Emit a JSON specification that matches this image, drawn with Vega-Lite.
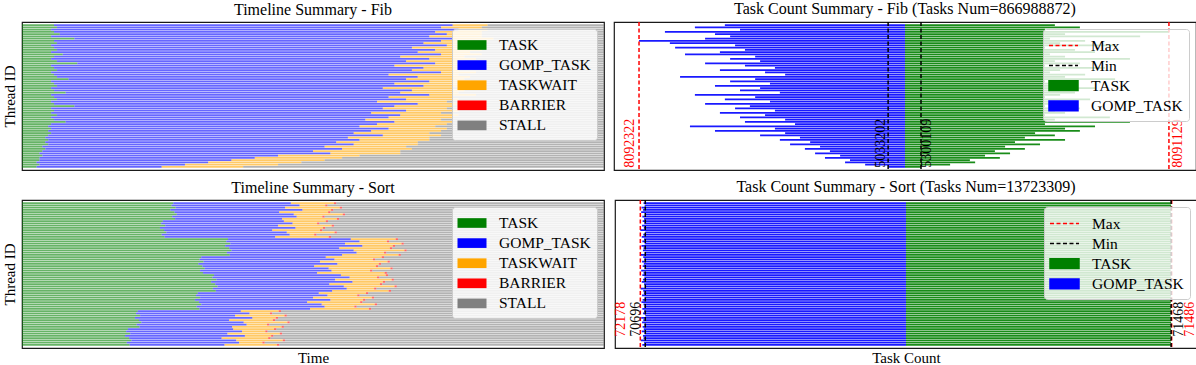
{
  "$schema": "https://vega.github.io/schema/vega-lite/v6.json",
  "background": "white",
  "padding": {"left": 1, "top": 0, "right": 0, "bottom": 0},
  "config": {
    "font": "Liberation Serif",
    "view": {"stroke": "#1a1a1a", "strokeWidth": 1.2},
    "title": {"font": "Liberation Serif", "fontSize": 16, "fontWeight": "normal", "color": "#000000", "offset": 4},
    "axis": {"titleFont": "Liberation Serif", "titleFontSize": 15, "titleFontWeight": "normal", "titleColor": "#000000", "grid": false, "labels": false, "ticks": false, "domain": false, "titlePadding": 5},
    "axisX": {"titlePadding": 2},
    "legend": {"labelFont": "Liberation Serif", "labelFontSize": 15.5, "labelColor": "#000000", "labelLimit": 300, "symbolOffset": 4}
  },
  "datasets": {
    "stateOrder": [
      {"state": "TASK", "o": 0}, {"state": "GOMP_TASK", "o": 1}, {"state": "TASKWAIT", "o": 2}, {"state": "BARRIER", "o": 3}, {"state": "STALL", "o": 4}
    ],
    "fibTimeline": [
      {"t":0,"TASK":5.5,"GOMP_TASK":68.5,"TASKWAIT":6,"STALL":20},
      {"t":1,"TASK":6,"GOMP_TASK":66,"TASKWAIT":7,"STALL":21},
      {"t":2,"TASK":5,"GOMP_TASK":70,"TASKWAIT":5,"STALL":20},
      {"t":3,"TASK":5.5,"GOMP_TASK":65.5,"TASKWAIT":8,"STALL":21},
      {"t":4,"TASK":6.5,"GOMP_TASK":66.5,"TASKWAIT":6,"STALL":21},
      {"t":5,"TASK":5,"GOMP_TASK":65,"TASKWAIT":9,"STALL":21},
      {"t":6,"TASK":9,"GOMP_TASK":65,"TASKWAIT":7,"STALL":19},
      {"t":7,"TASK":5.5,"GOMP_TASK":66.5,"TASKWAIT":8,"STALL":20},
      {"t":8,"TASK":6,"GOMP_TASK":63,"TASKWAIT":9,"STALL":22},
      {"t":9,"TASK":5,"GOMP_TASK":68,"TASKWAIT":6,"STALL":21},
      {"t":10,"TASK":5.5,"GOMP_TASK":61.5,"TASKWAIT":10,"STALL":23},
      {"t":11,"TASK":6,"GOMP_TASK":65,"TASKWAIT":8,"STALL":21},
      {"t":12,"TASK":5,"GOMP_TASK":63,"TASKWAIT":9,"STALL":23},
      {"t":13,"TASK":7,"GOMP_TASK":65,"TASKWAIT":7,"STALL":21},
      {"t":14,"TASK":5.5,"GOMP_TASK":59.5,"TASKWAIT":11,"STALL":24},
      {"t":15,"TASK":5,"GOMP_TASK":65,"TASKWAIT":8,"STALL":22},
      {"t":16,"TASK":6,"GOMP_TASK":60,"TASKWAIT":10,"STALL":24},
      {"t":17,"TASK":9.5,"GOMP_TASK":61.5,"TASKWAIT":7,"STALL":22},
      {"t":18,"TASK":5,"GOMP_TASK":59,"TASKWAIT":11,"STALL":25},
      {"t":19,"TASK":5.5,"GOMP_TASK":63.5,"TASKWAIT":9,"STALL":22},
      {"t":20,"TASK":6,"GOMP_TASK":61,"TASKWAIT":8,"STALL":25},
      {"t":21,"TASK":5,"GOMP_TASK":67,"TASKWAIT":6,"STALL":22},
      {"t":22,"TASK":5.5,"GOMP_TASK":57.5,"TASKWAIT":12,"STALL":25},
      {"t":23,"TASK":6,"GOMP_TASK":62,"TASKWAIT":9,"STALL":23},
      {"t":24,"TASK":8,"GOMP_TASK":58,"TASKWAIT":10,"STALL":24},
      {"t":25,"TASK":5,"GOMP_TASK":65,"TASKWAIT":7,"STALL":23},
      {"t":26,"TASK":5.5,"GOMP_TASK":58.5,"TASKWAIT":11,"STALL":25},
      {"t":27,"TASK":6,"GOMP_TASK":63,"TASKWAIT":8,"STALL":23},
      {"t":28,"TASK":5,"GOMP_TASK":57,"TASKWAIT":12,"STALL":26},
      {"t":29,"TASK":5.5,"GOMP_TASK":61.5,"TASKWAIT":9,"STALL":24},
      {"t":30,"TASK":7.5,"GOMP_TASK":57.5,"TASKWAIT":10,"STALL":25},
      {"t":31,"TASK":5,"GOMP_TASK":65,"TASKWAIT":8,"STALL":22},
      {"t":32,"TASK":5.5,"GOMP_TASK":57.5,"TASKWAIT":11,"STALL":26},
      {"t":33,"TASK":6,"GOMP_TASK":60,"TASKWAIT":9,"STALL":25},
      {"t":34,"TASK":5,"GOMP_TASK":56,"TASKWAIT":12,"STALL":27},
      {"t":35,"TASK":5.5,"GOMP_TASK":62.5,"TASKWAIT":8,"STALL":24},
      {"t":36,"TASK":9,"GOMP_TASK":55,"TASKWAIT":10,"STALL":26},
      {"t":37,"TASK":5,"GOMP_TASK":57,"TASKWAIT":11,"STALL":27},
      {"t":38,"TASK":5.5,"GOMP_TASK":60.5,"TASKWAIT":9,"STALL":25},
      {"t":39,"TASK":5,"GOMP_TASK":55,"TASKWAIT":12,"STALL":28},
      {"t":40,"TASK":6,"GOMP_TASK":59,"TASKWAIT":10,"STALL":25},
      {"t":41,"TASK":5,"GOMP_TASK":58,"TASKWAIT":11,"STALL":26},
      {"t":42,"TASK":5.5,"GOMP_TASK":53.5,"TASKWAIT":13,"STALL":28},
      {"t":43,"TASK":7.5,"GOMP_TASK":56.5,"TASKWAIT":10,"STALL":26},
      {"t":44,"TASK":5,"GOMP_TASK":56,"TASKWAIT":12,"STALL":27},
      {"t":45,"TASK":4.5,"GOMP_TASK":53.5,"TASKWAIT":13,"STALL":29},
      {"t":46,"TASK":5,"GOMP_TASK":58,"TASKWAIT":10,"STALL":27},
      {"t":47,"TASK":4.5,"GOMP_TASK":55.5,"TASKWAIT":12,"STALL":28},
      {"t":48,"TASK":5,"GOMP_TASK":52,"TASKWAIT":13,"STALL":30},
      {"t":49,"TASK":4.5,"GOMP_TASK":57.5,"TASKWAIT":10,"STALL":28},
      {"t":50,"TASK":4,"GOMP_TASK":52,"TASKWAIT":14,"STALL":30},
      {"t":51,"TASK":4.5,"GOMP_TASK":53.5,"TASKWAIT":12,"STALL":30},
      {"t":52,"TASK":4,"GOMP_TASK":50,"TASKWAIT":14,"STALL":32},
      {"t":53,"TASK":4.5,"GOMP_TASK":52.5,"TASKWAIT":11,"STALL":32},
      {"t":54,"TASK":3.5,"GOMP_TASK":48.5,"TASKWAIT":14,"STALL":34},
      {"t":55,"TASK":4,"GOMP_TASK":51,"TASKWAIT":12,"STALL":33},
      {"t":56,"TASK":3.5,"GOMP_TASK":46.5,"TASKWAIT":15,"STALL":35},
      {"t":57,"TASK":3,"GOMP_TASK":50,"TASKWAIT":12,"STALL":35},
      {"t":58,"TASK":3.5,"GOMP_TASK":40.5,"TASKWAIT":14,"STALL":42},
      {"t":59,"TASK":3,"GOMP_TASK":37,"TASKWAIT":15,"STALL":45},
      {"t":60,"TASK":3,"GOMP_TASK":33,"TASKWAIT":16,"STALL":48},
      {"t":61,"TASK":2.5,"GOMP_TASK":29.5,"TASKWAIT":16,"STALL":52},
      {"t":62,"TASK":3,"GOMP_TASK":25,"TASKWAIT":16,"STALL":56},
      {"t":63,"TASK":2.5,"GOMP_TASK":21.5,"TASKWAIT":14,"STALL":62}
    ],
    "sortTimeline": [
      {"t":0,"TASK":26.0,"GOMP_TASK":20.2,"TASKWAIT":7.4,"BARRIER":0.4,"STALL":46.0},
      {"t":1,"TASK":25.7,"GOMP_TASK":22.0,"TASKWAIT":4.4,"BARRIER":0.4,"STALL":47.5},
      {"t":2,"TASK":26.4,"GOMP_TASK":18.8,"TASKWAIT":9.4,"BARRIER":0.4,"STALL":45.0},
      {"t":3,"TASK":25.5,"GOMP_TASK":22.7,"TASKWAIT":4.9,"BARRIER":0.4,"STALL":46.5},
      {"t":4,"TASK":26.2,"GOMP_TASK":18.0,"TASKWAIT":8.4,"BARRIER":0.4,"STALL":47.0},
      {"t":5,"TASK":26.6,"GOMP_TASK":20.1,"TASKWAIT":8.4,"BARRIER":0.4,"STALL":44.5},
      {"t":6,"TASK":25.8,"GOMP_TASK":21.4,"TASKWAIT":4.4,"BARRIER":0.4,"STALL":48.0},
      {"t":7,"TASK":26.3,"GOMP_TASK":18.4,"TASKWAIT":9.4,"BARRIER":0.4,"STALL":45.5},
      {"t":8,"TASK":24.2,"GOMP_TASK":20.8,"TASKWAIT":7.2,"BARRIER":0.4,"STALL":47.4},
      {"t":9,"TASK":23.9,"GOMP_TASK":22.6,"TASKWAIT":4.2,"BARRIER":0.4,"STALL":48.9},
      {"t":10,"TASK":24.6,"GOMP_TASK":19.4,"TASKWAIT":9.2,"BARRIER":0.4,"STALL":46.4},
      {"t":11,"TASK":23.7,"GOMP_TASK":23.3,"TASKWAIT":4.7,"BARRIER":0.4,"STALL":47.9},
      {"t":12,"TASK":24.4,"GOMP_TASK":18.6,"TASKWAIT":8.2,"BARRIER":0.4,"STALL":48.4},
      {"t":13,"TASK":24.8,"GOMP_TASK":20.7,"TASKWAIT":8.2,"BARRIER":0.4,"STALL":45.9},
      {"t":14,"TASK":24.0,"GOMP_TASK":22.0,"TASKWAIT":4.2,"BARRIER":0.4,"STALL":49.4},
      {"t":15,"TASK":24.5,"GOMP_TASK":19.0,"TASKWAIT":9.2,"BARRIER":0.4,"STALL":46.9},
      {"t":16,"TASK":35.4,"GOMP_TASK":21.1,"TASKWAIT":7.7,"BARRIER":0.4,"STALL":35.4},
      {"t":17,"TASK":35.1,"GOMP_TASK":22.9,"TASKWAIT":4.7,"BARRIER":0.4,"STALL":36.9},
      {"t":18,"TASK":35.8,"GOMP_TASK":19.7,"TASKWAIT":9.7,"BARRIER":0.4,"STALL":34.4},
      {"t":19,"TASK":34.9,"GOMP_TASK":23.6,"TASKWAIT":5.2,"BARRIER":0.4,"STALL":35.9},
      {"t":20,"TASK":35.6,"GOMP_TASK":18.9,"TASKWAIT":8.7,"BARRIER":0.4,"STALL":36.4},
      {"t":21,"TASK":36.0,"GOMP_TASK":21.0,"TASKWAIT":8.7,"BARRIER":0.4,"STALL":33.9},
      {"t":22,"TASK":35.2,"GOMP_TASK":22.3,"TASKWAIT":4.7,"BARRIER":0.4,"STALL":37.4},
      {"t":23,"TASK":35.7,"GOMP_TASK":19.3,"TASKWAIT":9.7,"BARRIER":0.4,"STALL":34.9},
      {"t":24,"TASK":30.8,"GOMP_TASK":21.4,"TASKWAIT":9.6,"BARRIER":0.4,"STALL":37.8},
      {"t":25,"TASK":30.5,"GOMP_TASK":23.2,"TASKWAIT":6.6,"BARRIER":0.4,"STALL":39.3},
      {"t":26,"TASK":31.2,"GOMP_TASK":20.0,"TASKWAIT":11.6,"BARRIER":0.4,"STALL":36.8},
      {"t":27,"TASK":30.3,"GOMP_TASK":23.9,"TASKWAIT":7.1,"BARRIER":0.4,"STALL":38.3},
      {"t":28,"TASK":31.0,"GOMP_TASK":19.2,"TASKWAIT":10.6,"BARRIER":0.4,"STALL":38.8},
      {"t":29,"TASK":31.4,"GOMP_TASK":21.3,"TASKWAIT":10.6,"BARRIER":0.4,"STALL":36.3},
      {"t":30,"TASK":30.6,"GOMP_TASK":22.6,"TASKWAIT":6.6,"BARRIER":0.4,"STALL":39.8},
      {"t":31,"TASK":31.1,"GOMP_TASK":19.6,"TASKWAIT":11.6,"BARRIER":0.4,"STALL":37.3},
      {"t":32,"TASK":33.0,"GOMP_TASK":21.8,"TASKWAIT":7.7,"BARRIER":0.4,"STALL":37.1},
      {"t":33,"TASK":32.7,"GOMP_TASK":23.6,"TASKWAIT":4.7,"BARRIER":0.4,"STALL":38.6},
      {"t":34,"TASK":33.4,"GOMP_TASK":20.4,"TASKWAIT":9.7,"BARRIER":0.4,"STALL":36.1},
      {"t":35,"TASK":32.5,"GOMP_TASK":24.3,"TASKWAIT":5.2,"BARRIER":0.4,"STALL":37.6},
      {"t":36,"TASK":33.2,"GOMP_TASK":19.6,"TASKWAIT":8.7,"BARRIER":0.4,"STALL":38.1},
      {"t":37,"TASK":33.6,"GOMP_TASK":21.7,"TASKWAIT":8.7,"BARRIER":0.4,"STALL":35.6},
      {"t":38,"TASK":32.8,"GOMP_TASK":23.0,"TASKWAIT":4.7,"BARRIER":0.4,"STALL":39.1},
      {"t":39,"TASK":33.3,"GOMP_TASK":20.0,"TASKWAIT":9.7,"BARRIER":0.4,"STALL":36.6},
      {"t":40,"TASK":30.2,"GOMP_TASK":20.8,"TASKWAIT":8.1,"BARRIER":0.4,"STALL":40.5},
      {"t":41,"TASK":29.9,"GOMP_TASK":22.6,"TASKWAIT":5.1,"BARRIER":0.4,"STALL":42.0},
      {"t":42,"TASK":30.6,"GOMP_TASK":19.4,"TASKWAIT":10.1,"BARRIER":0.4,"STALL":39.5},
      {"t":43,"TASK":29.7,"GOMP_TASK":23.3,"TASKWAIT":5.6,"BARRIER":0.4,"STALL":41.0},
      {"t":44,"TASK":30.4,"GOMP_TASK":18.6,"TASKWAIT":9.1,"BARRIER":0.4,"STALL":41.5},
      {"t":45,"TASK":30.8,"GOMP_TASK":20.7,"TASKWAIT":9.1,"BARRIER":0.4,"STALL":39.0},
      {"t":46,"TASK":30.0,"GOMP_TASK":22.0,"TASKWAIT":5.1,"BARRIER":0.4,"STALL":42.5},
      {"t":47,"TASK":30.5,"GOMP_TASK":19.0,"TASKWAIT":10.1,"BARRIER":0.4,"STALL":40.0},
      {"t":48,"TASK":19.9,"GOMP_TASK":17.7,"TASKWAIT":6.5,"BARRIER":0.4,"STALL":55.5},
      {"t":49,"TASK":19.6,"GOMP_TASK":19.5,"TASKWAIT":3.5,"BARRIER":0.4,"STALL":57.0},
      {"t":50,"TASK":20.3,"GOMP_TASK":16.3,"TASKWAIT":8.5,"BARRIER":0.4,"STALL":54.5},
      {"t":51,"TASK":19.4,"GOMP_TASK":20.2,"TASKWAIT":4.0,"BARRIER":0.4,"STALL":56.0},
      {"t":52,"TASK":20.1,"GOMP_TASK":15.5,"TASKWAIT":7.5,"BARRIER":0.4,"STALL":56.5},
      {"t":53,"TASK":20.5,"GOMP_TASK":17.6,"TASKWAIT":7.5,"BARRIER":0.4,"STALL":54.0},
      {"t":54,"TASK":19.7,"GOMP_TASK":18.9,"TASKWAIT":3.5,"BARRIER":0.4,"STALL":57.5},
      {"t":55,"TASK":20.2,"GOMP_TASK":15.9,"TASKWAIT":8.5,"BARRIER":0.4,"STALL":55.0},
      {"t":56,"TASK":18.2,"GOMP_TASK":18.1,"TASKWAIT":7.0,"BARRIER":0.4,"STALL":56.3},
      {"t":57,"TASK":17.9,"GOMP_TASK":19.9,"TASKWAIT":4.0,"BARRIER":0.4,"STALL":57.8},
      {"t":58,"TASK":18.6,"GOMP_TASK":16.7,"TASKWAIT":9.0,"BARRIER":0.4,"STALL":55.3},
      {"t":59,"TASK":17.7,"GOMP_TASK":20.6,"TASKWAIT":4.5,"BARRIER":0.4,"STALL":56.8},
      {"t":60,"TASK":18.4,"GOMP_TASK":15.9,"TASKWAIT":8.0,"BARRIER":0.4,"STALL":57.3},
      {"t":61,"TASK":18.8,"GOMP_TASK":18.0,"TASKWAIT":8.0,"BARRIER":0.4,"STALL":54.8},
      {"t":62,"TASK":18.0,"GOMP_TASK":19.3,"TASKWAIT":4.0,"BARRIER":0.4,"STALL":58.3},
      {"t":63,"TASK":18.5,"GOMP_TASK":16.3,"TASKWAIT":9.0,"BARRIER":0.4,"STALL":55.8}
    ],
    "fibCount": [
      {"t":0,"GOMP_TASK":-61.9,"TASK":51.5},{"t":1,"GOMP_TASK":-72.2,"TASK":60.1},{"t":2,"GOMP_TASK":-56.7,"TASK":48.1},{"t":3,"GOMP_TASK":-82.5,"TASK":90.7},
      {"t":4,"GOMP_TASK":-65.3,"TASK":55.0},{"t":5,"GOMP_TASK":-60.1,"TASK":80.8},{"t":6,"GOMP_TASK":-68.7,"TASK":49.8},{"t":7,"GOMP_TASK":-91.4,"TASK":61.9},
      {"t":8,"GOMP_TASK":-80.8,"TASK":53.3},{"t":9,"GOMP_TASK":-58.4,"TASK":72.2},{"t":10,"GOMP_TASK":-79.0,"TASK":48.1},{"t":11,"GOMP_TASK":-55.0,"TASK":58.4},
      {"t":12,"GOMP_TASK":-63.6,"TASK":65.3},{"t":13,"GOMP_TASK":-75.6,"TASK":49.8},{"t":14,"GOMP_TASK":-51.5,"TASK":55.0},{"t":15,"GOMP_TASK":-60.1,"TASK":77.3},
      {"t":16,"GOMP_TASK":-49.8,"TASK":51.5},{"t":17,"GOMP_TASK":-68.7,"TASK":60.1},{"t":18,"GOMP_TASK":-55.0,"TASK":48.1},{"t":19,"GOMP_TASK":-44.7,"TASK":68.7},
      {"t":20,"GOMP_TASK":-63.6,"TASK":53.3},{"t":21,"GOMP_TASK":-48.1,"TASK":49.8},{"t":22,"GOMP_TASK":-41.2,"TASK":61.9},{"t":23,"GOMP_TASK":-77.3,"TASK":55.0},
      {"t":24,"GOMP_TASK":-51.5,"TASK":72.2},{"t":25,"GOMP_TASK":-60.1,"TASK":48.1},{"t":26,"GOMP_TASK":-46.4,"TASK":56.7},{"t":27,"GOMP_TASK":-65.3,"TASK":51.5},
      {"t":28,"GOMP_TASK":-49.8,"TASK":65.3},{"t":29,"GOMP_TASK":-56.7,"TASK":49.8},{"t":30,"GOMP_TASK":-43.0,"TASK":58.4},{"t":31,"GOMP_TASK":-72.2,"TASK":53.3},
      {"t":32,"GOMP_TASK":-51.5,"TASK":48.1},{"t":33,"GOMP_TASK":-61.9,"TASK":63.6},{"t":34,"GOMP_TASK":-46.4,"TASK":51.5},{"t":35,"GOMP_TASK":-68.7,"TASK":56.7},
      {"t":36,"GOMP_TASK":-53.3,"TASK":48.1},{"t":37,"GOMP_TASK":-58.4,"TASK":60.1},{"t":38,"GOMP_TASK":-44.7,"TASK":51.5},{"t":39,"GOMP_TASK":-63.6,"TASK":55.0},
      {"t":40,"GOMP_TASK":-48.1,"TASK":48.1},{"t":41,"GOMP_TASK":-56.7,"TASK":70.4},{"t":42,"GOMP_TASK":-41.2,"TASK":51.5},{"t":43,"GOMP_TASK":-55.0,"TASK":77.3},
      {"t":44,"GOMP_TASK":-37.8,"TASK":48.1},{"t":45,"GOMP_TASK":-73.9,"TASK":65.3},{"t":46,"GOMP_TASK":-44.7,"TASK":55.0},{"t":47,"GOMP_TASK":-65.3,"TASK":60.1},
      {"t":48,"GOMP_TASK":-41.2,"TASK":44.7},{"t":49,"GOMP_TASK":-49.8,"TASK":51.5},{"t":50,"GOMP_TASK":-36.1,"TASK":41.2},{"t":51,"GOMP_TASK":-43.0,"TASK":55.0},
      {"t":52,"GOMP_TASK":-32.6,"TASK":37.8},{"t":53,"GOMP_TASK":-39.5,"TASK":46.4},{"t":54,"GOMP_TASK":-29.2,"TASK":34.4},{"t":55,"GOMP_TASK":-34.4,"TASK":41.2},
      {"t":56,"GOMP_TASK":-25.8,"TASK":30.9},{"t":57,"GOMP_TASK":-30.9,"TASK":36.1},{"t":58,"GOMP_TASK":-22.3,"TASK":27.5},{"t":59,"GOMP_TASK":-27.5,"TASK":32.6},
      {"t":60,"GOMP_TASK":-18.9,"TASK":22.3},{"t":61,"GOMP_TASK":-20.6,"TASK":24.1},{"t":62,"GOMP_TASK":-13.7,"TASK":15.5},{"t":63,"GOMP_TASK":-5.8,"TASK":5.5}
    ],
    "sortCount": [
      {"t":0,"GOMP_TASK":-90.2,"TASK":91.0},{"t":1,"GOMP_TASK":-89.8,"TASK":91.1},{"t":2,"GOMP_TASK":-90.9,"TASK":90.9},{"t":3,"GOMP_TASK":-90.4,"TASK":91.2},
      {"t":4,"GOMP_TASK":-91.0,"TASK":91.0},{"t":5,"GOMP_TASK":-89.7,"TASK":91.1},{"t":6,"GOMP_TASK":-90.6,"TASK":91.0},{"t":7,"GOMP_TASK":-90.0,"TASK":90.9},
      {"t":8,"GOMP_TASK":-90.5,"TASK":91.1},{"t":9,"GOMP_TASK":-89.9,"TASK":91.0},{"t":10,"GOMP_TASK":-90.7,"TASK":91.2},{"t":11,"GOMP_TASK":-90.1,"TASK":90.9},
      {"t":12,"GOMP_TASK":-91.3,"TASK":91.0},{"t":13,"GOMP_TASK":-89.6,"TASK":91.1},{"t":14,"GOMP_TASK":-90.3,"TASK":91.0},{"t":15,"GOMP_TASK":-90.8,"TASK":90.9},
      {"t":16,"GOMP_TASK":-90.0,"TASK":91.1},{"t":17,"GOMP_TASK":-90.6,"TASK":91.0},{"t":18,"GOMP_TASK":-89.8,"TASK":91.2},{"t":19,"GOMP_TASK":-90.9,"TASK":91.0},
      {"t":20,"GOMP_TASK":-90.2,"TASK":90.9},{"t":21,"GOMP_TASK":-90.4,"TASK":91.1},{"t":22,"GOMP_TASK":-89.7,"TASK":91.0},{"t":23,"GOMP_TASK":-91.1,"TASK":91.1},
      {"t":24,"GOMP_TASK":-90.3,"TASK":91.0},{"t":25,"GOMP_TASK":-89.9,"TASK":90.9},{"t":26,"GOMP_TASK":-90.7,"TASK":91.1},{"t":27,"GOMP_TASK":-90.1,"TASK":91.0},
      {"t":28,"GOMP_TASK":-90.5,"TASK":91.2},{"t":29,"GOMP_TASK":-89.8,"TASK":91.0},{"t":30,"GOMP_TASK":-91.0,"TASK":90.9},{"t":31,"GOMP_TASK":-90.2,"TASK":91.1},
      {"t":32,"GOMP_TASK":-90.6,"TASK":91.0},{"t":33,"GOMP_TASK":-89.9,"TASK":91.1},{"t":34,"GOMP_TASK":-90.4,"TASK":91.0},{"t":35,"GOMP_TASK":-90.8,"TASK":90.9},
      {"t":36,"GOMP_TASK":-90.0,"TASK":91.1},{"t":37,"GOMP_TASK":-89.7,"TASK":91.0},{"t":38,"GOMP_TASK":-91.2,"TASK":91.2},{"t":39,"GOMP_TASK":-90.3,"TASK":91.0},
      {"t":40,"GOMP_TASK":-90.1,"TASK":90.9},{"t":41,"GOMP_TASK":-90.7,"TASK":91.1},{"t":42,"GOMP_TASK":-89.8,"TASK":91.0},{"t":43,"GOMP_TASK":-90.5,"TASK":91.1},
      {"t":44,"GOMP_TASK":-90.9,"TASK":91.0},{"t":45,"GOMP_TASK":-90.2,"TASK":90.9},{"t":46,"GOMP_TASK":-89.9,"TASK":91.1},{"t":47,"GOMP_TASK":-90.6,"TASK":91.0},
      {"t":48,"GOMP_TASK":-90.0,"TASK":91.2},{"t":49,"GOMP_TASK":-90.4,"TASK":91.0},{"t":50,"GOMP_TASK":-89.6,"TASK":90.9},{"t":51,"GOMP_TASK":-91.0,"TASK":91.1},
      {"t":52,"GOMP_TASK":-90.3,"TASK":91.0},{"t":53,"GOMP_TASK":-90.7,"TASK":91.1},{"t":54,"GOMP_TASK":-89.9,"TASK":91.0},{"t":55,"GOMP_TASK":-90.5,"TASK":90.9},
      {"t":56,"GOMP_TASK":-90.1,"TASK":91.1},{"t":57,"GOMP_TASK":-90.8,"TASK":91.0},{"t":58,"GOMP_TASK":-89.8,"TASK":91.2},{"t":59,"GOMP_TASK":-90.4,"TASK":91.0},
      {"t":60,"GOMP_TASK":-90.2,"TASK":90.9},{"t":61,"GOMP_TASK":-91.1,"TASK":91.1},{"t":62,"GOMP_TASK":-90.0,"TASK":91.0},{"t":63,"GOMP_TASK":-90.6,"TASK":91.1}
    ],
    "fibRules": [
      {"kind":"Max","x":-91.4,"tx":-94.5,"t":63,"label":"8092322"},
      {"kind":"Min","x":-5.8,"tx":-8.2,"t":63,"label":"5033202"},
      {"kind":"Max","x":90.7,"tx":93.8,"t":63,"label":"8091129"},
      {"kind":"Min","x":5.5,"tx":7.4,"t":63,"label":"5300109"}
    ],
    "sortRules": [
      {"kind":"Max","x":-91.3,"tx":-97.9,"t":59,"label":"72178"},
      {"kind":"Min","x":-89.6,"tx":-92.8,"t":59,"label":"70696"},
      {"kind":"Max","x":91.3,"tx":97.6,"t":59,"label":"71486"},
      {"kind":"Min","x":91.1,"tx":93.8,"t":59,"label":"71468"}
    ]
  },
  "spacing": 6,
  "resolve": {"scale": {"color": "independent", "x": "independent", "y": "independent"}, "legend": {"color": "independent"}, "axis": {"x": "independent", "y": "independent"}},
  "vconcat": [
    {
      "spacing": 8,
      "resolve": {"scale": {"color": "independent", "x": "independent", "y": "independent"}, "legend": {"color": "independent"}, "axis": {"x": "independent", "y": "independent"}},
      "hconcat": [
        {
          "title": "Timeline Summary - Fib",
          "width": 582, "height": 148,
          "data": {"name": "fibTimeline"},
          "transform": [
            {"fold": ["TASK", "GOMP_TASK", "TASKWAIT", "STALL"], "as": ["state", "dur"]},
            {"lookup": "state", "from": {"data": {"name": "stateOrder"}, "key": "state", "fields": ["o"]}}
          ],
          "mark": {"type": "bar", "opacity": 0.6},
          "encoding": {
            "y": {"field": "t", "type": "ordinal", "scale": {"paddingInner": 0.18, "paddingOuter": 3.2}, "axis": {"title": "Thread ID"}},
            "x": {"field": "dur", "type": "quantitative", "stack": "zero", "scale": {"domain": [0, 100], "nice": false}, "axis": null},
            "order": {"field": "o", "type": "quantitative"},
            "color": {"field": "state", "type": "nominal",
              "scale": {"domain": ["TASK", "GOMP_TASK", "TASKWAIT", "BARRIER", "STALL"], "range": ["#008000", "#0000ff", "#ffa500", "#ff0000", "#808080"]},
              "legend": {"title": null, "orient": "top-right", "offset": 7, "symbolType": "M-1.5,-0.5H1.5V0.5H-1.5Z", "symbolSize": 374, "symbolOpacity": 1, "symbolStrokeWidth": 0, "labelOffset": 17, "rowPadding": 1.1, "padding": 6, "fillColor": "rgba(255,255,255,0.8)", "strokeColor": "#cccccc", "cornerRadius": 3}}
          }
        },
        {
          "title": "Task Count Summary - Fib (Tasks Num=866988872)",
          "width": 582, "height": 148,
          "layer": [
            {
              "data": {"name": "fibCount"},
              "mark": {"type": "bar", "opacity": 0.9},
              "encoding": {
                "y": {"field": "t", "type": "ordinal", "scale": {"paddingInner": 0.18, "paddingOuter": 3.2}, "axis": null},
                "x": {"field": "GOMP_TASK", "type": "quantitative", "scale": {"domain": [-100, 100], "nice": false}, "axis": null},
                "color": {"datum": "GOMP_TASK", "type": "nominal",
                  "scale": {"domain": ["Max", "Min", "TASK", "GOMP_TASK"], "range": ["#ff0000", "#000000", "#008000", "#0000ff"]},
                  "legend": {"title": null, "orient": "top-right", "offset": 7, "symbolSize": 374, "labelOffset": 17, "rowPadding": 1.1, "padding": 6, "fillColor": "rgba(255,255,255,0.8)", "strokeColor": "#cccccc", "cornerRadius": 3,
                    "encode": {"symbols": {"update": {
                      "shape": {"signal": "datum.value === 'Max' || datum.value === 'Min' ? 'M-1.5,0H1.5' : 'M-1.5,-0.5H1.5V0.5H-1.5Z'"},
                      "fill": {"signal": "datum.value === 'TASK' ? '#008000' : datum.value === 'GOMP_TASK' ? '#0000ff' : 'transparent'"},
                      "stroke": {"signal": "datum.value === 'Max' ? '#ff0000' : datum.value === 'Min' ? '#000000' : 'transparent'"},
                      "strokeDash": {"signal": "datum.value === 'Max' || datum.value === 'Min' ? [4, 2.5] : [1, 0]"},
                      "strokeWidth": {"value": 1.5},
                      "opacity": {"value": 1}
                    }}}}}
              }
            },
            {
              "data": {"name": "fibCount"},
              "mark": {"type": "bar", "opacity": 0.9},
              "encoding": {
                "y": {"field": "t", "type": "ordinal", "scale": {"paddingInner": 0.18, "paddingOuter": 3.2}, "axis": null},
                "x": {"field": "TASK", "type": "quantitative", "scale": {"domain": [-100, 100], "nice": false}, "axis": null},
                "color": {"datum": "TASK", "type": "nominal",
                  "legend": {"title": null, "orient": "top-right", "offset": 7, "symbolSize": 374, "labelOffset": 17, "rowPadding": 1.1, "padding": 6, "fillColor": "rgba(255,255,255,0.8)", "strokeColor": "#cccccc", "cornerRadius": 3,
                    "encode": {"symbols": {"update": {
                      "shape": {"signal": "datum.value === 'Max' || datum.value === 'Min' ? 'M-1.5,0H1.5' : 'M-1.5,-0.5H1.5V0.5H-1.5Z'"},
                      "fill": {"signal": "datum.value === 'TASK' ? '#008000' : datum.value === 'GOMP_TASK' ? '#0000ff' : 'transparent'"},
                      "stroke": {"signal": "datum.value === 'Max' ? '#ff0000' : datum.value === 'Min' ? '#000000' : 'transparent'"},
                      "strokeDash": {"signal": "datum.value === 'Max' || datum.value === 'Min' ? [4, 2.5] : [1, 0]"},
                      "strokeWidth": {"value": 1.5},
                      "opacity": {"value": 1}
                    }}}}}
              }
            },
            {
              "data": {"name": "fibRules"},
              "mark": {"type": "rule", "strokeDash": [4, 2.5], "strokeWidth": 1.5},
              "encoding": {
                "x": {"field": "x", "type": "quantitative", "scale": {"domain": [-100, 100], "nice": false}, "axis": null},
                "color": {"field": "kind", "type": "nominal",
                  "legend": {"title": null, "orient": "top-right", "offset": 7, "symbolSize": 374, "labelOffset": 17, "rowPadding": 1.1, "padding": 6, "fillColor": "rgba(255,255,255,0.8)", "strokeColor": "#cccccc", "cornerRadius": 3,
                    "encode": {"symbols": {"update": {
                      "shape": {"signal": "datum.value === 'Max' || datum.value === 'Min' ? 'M-1.5,0H1.5' : 'M-1.5,-0.5H1.5V0.5H-1.5Z'"},
                      "fill": {"signal": "datum.value === 'TASK' ? '#008000' : datum.value === 'GOMP_TASK' ? '#0000ff' : 'transparent'"},
                      "stroke": {"signal": "datum.value === 'Max' ? '#ff0000' : datum.value === 'Min' ? '#000000' : 'transparent'"},
                      "strokeDash": {"signal": "datum.value === 'Max' || datum.value === 'Min' ? [4, 2.5] : [1, 0]"},
                      "strokeWidth": {"value": 1.5},
                      "opacity": {"value": 1}
                    }}}}}
              }
            },
            {
              "data": {"name": "fibRules"},
              "mark": {"type": "text", "angle": 270, "align": "left", "baseline": "middle", "fontSize": 14, "font": "Liberation Serif"},
              "encoding": {
                "x": {"field": "tx", "type": "quantitative", "scale": {"domain": [-100, 100], "nice": false}, "axis": null},
                "y": {"field": "t", "type": "ordinal", "bandPosition": 1, "scale": {"paddingInner": 0.18, "paddingOuter": 3.2}, "axis": null},
                "text": {"field": "label"},
                "color": {"field": "kind", "type": "nominal",
                  "legend": {"title": null, "orient": "top-right", "offset": 7, "symbolSize": 374, "labelOffset": 17, "rowPadding": 1.1, "padding": 6, "fillColor": "rgba(255,255,255,0.8)", "strokeColor": "#cccccc", "cornerRadius": 3,
                    "encode": {"symbols": {"update": {
                      "shape": {"signal": "datum.value === 'Max' || datum.value === 'Min' ? 'M-1.5,0H1.5' : 'M-1.5,-0.5H1.5V0.5H-1.5Z'"},
                      "fill": {"signal": "datum.value === 'TASK' ? '#008000' : datum.value === 'GOMP_TASK' ? '#0000ff' : 'transparent'"},
                      "stroke": {"signal": "datum.value === 'Max' ? '#ff0000' : datum.value === 'Min' ? '#000000' : 'transparent'"},
                      "strokeDash": {"signal": "datum.value === 'Max' || datum.value === 'Min' ? [4, 2.5] : [1, 0]"},
                      "strokeWidth": {"value": 1.5},
                      "opacity": {"value": 1}
                    }}}}}
              }
            }
          ]
        }
      ]
    },
    {
      "spacing": 8,
      "resolve": {"scale": {"color": "independent", "x": "independent", "y": "independent"}, "legend": {"color": "independent"}, "axis": {"x": "independent", "y": "independent"}},
      "hconcat": [
        {
          "title": "Timeline Summary - Sort",
          "width": 582, "height": 148,
          "data": {"name": "sortTimeline"},
          "transform": [
            {"fold": ["TASK", "GOMP_TASK", "TASKWAIT", "BARRIER", "STALL"], "as": ["state", "dur"]},
            {"lookup": "state", "from": {"data": {"name": "stateOrder"}, "key": "state", "fields": ["o"]}}
          ],
          "mark": {"type": "bar", "opacity": 0.6},
          "encoding": {
            "y": {"field": "t", "type": "ordinal", "scale": {"paddingInner": 0.18, "paddingOuter": 3.2}, "axis": {"title": "Thread ID"}},
            "x": {"field": "dur", "type": "quantitative", "stack": "zero", "scale": {"domain": [0, 100], "nice": false}, "axis": {"title": "Time"}},
            "order": {"field": "o", "type": "quantitative"},
            "color": {"field": "state", "type": "nominal",
              "scale": {"domain": ["TASK", "GOMP_TASK", "TASKWAIT", "BARRIER", "STALL"], "range": ["#008000", "#0000ff", "#ffa500", "#ff0000", "#808080"]},
              "legend": {"title": null, "orient": "top-right", "offset": 7, "symbolType": "M-1.5,-0.5H1.5V0.5H-1.5Z", "symbolSize": 374, "symbolOpacity": 1, "symbolStrokeWidth": 0, "labelOffset": 17, "rowPadding": 1.1, "padding": 6, "fillColor": "rgba(255,255,255,0.8)", "strokeColor": "#cccccc", "cornerRadius": 3}}
          }
        },
        {
          "title": "Task Count Summary - Sort (Tasks Num=13723309)",
          "width": 582, "height": 148,
          "layer": [
            {
              "data": {"name": "sortCount"},
              "mark": {"type": "bar", "opacity": 0.9},
              "encoding": {
                "y": {"field": "t", "type": "ordinal", "scale": {"paddingInner": 0.18, "paddingOuter": 3.2}, "axis": null},
                "x": {"field": "GOMP_TASK", "type": "quantitative", "scale": {"domain": [-100, 100], "nice": false}, "axis": {"title": "Task Count"}},
                "color": {"datum": "GOMP_TASK", "type": "nominal",
                  "scale": {"domain": ["Max", "Min", "TASK", "GOMP_TASK"], "range": ["#ff0000", "#000000", "#008000", "#0000ff"]},
                  "legend": {"title": null, "orient": "top-right", "offset": 7, "symbolSize": 374, "labelOffset": 17, "rowPadding": 1.1, "padding": 6, "fillColor": "rgba(255,255,255,0.8)", "strokeColor": "#cccccc", "cornerRadius": 3,
                    "encode": {"symbols": {"update": {
                      "shape": {"signal": "datum.value === 'Max' || datum.value === 'Min' ? 'M-1.5,0H1.5' : 'M-1.5,-0.5H1.5V0.5H-1.5Z'"},
                      "fill": {"signal": "datum.value === 'TASK' ? '#008000' : datum.value === 'GOMP_TASK' ? '#0000ff' : 'transparent'"},
                      "stroke": {"signal": "datum.value === 'Max' ? '#ff0000' : datum.value === 'Min' ? '#000000' : 'transparent'"},
                      "strokeDash": {"signal": "datum.value === 'Max' || datum.value === 'Min' ? [4, 2.5] : [1, 0]"},
                      "strokeWidth": {"value": 1.5},
                      "opacity": {"value": 1}
                    }}}}}
              }
            },
            {
              "data": {"name": "sortCount"},
              "mark": {"type": "bar", "opacity": 0.9},
              "encoding": {
                "y": {"field": "t", "type": "ordinal", "scale": {"paddingInner": 0.18, "paddingOuter": 3.2}, "axis": null},
                "x": {"field": "TASK", "type": "quantitative", "scale": {"domain": [-100, 100], "nice": false}, "axis": {"title": "Task Count"}},
                "color": {"datum": "TASK", "type": "nominal",
                  "legend": {"title": null, "orient": "top-right", "offset": 7, "symbolSize": 374, "labelOffset": 17, "rowPadding": 1.1, "padding": 6, "fillColor": "rgba(255,255,255,0.8)", "strokeColor": "#cccccc", "cornerRadius": 3,
                    "encode": {"symbols": {"update": {
                      "shape": {"signal": "datum.value === 'Max' || datum.value === 'Min' ? 'M-1.5,0H1.5' : 'M-1.5,-0.5H1.5V0.5H-1.5Z'"},
                      "fill": {"signal": "datum.value === 'TASK' ? '#008000' : datum.value === 'GOMP_TASK' ? '#0000ff' : 'transparent'"},
                      "stroke": {"signal": "datum.value === 'Max' ? '#ff0000' : datum.value === 'Min' ? '#000000' : 'transparent'"},
                      "strokeDash": {"signal": "datum.value === 'Max' || datum.value === 'Min' ? [4, 2.5] : [1, 0]"},
                      "strokeWidth": {"value": 1.5},
                      "opacity": {"value": 1}
                    }}}}}
              }
            },
            {
              "data": {"name": "sortRules"},
              "mark": {"type": "rule", "strokeDash": [4, 2.5], "strokeWidth": 1.5},
              "encoding": {
                "x": {"field": "x", "type": "quantitative", "scale": {"domain": [-100, 100], "nice": false}, "axis": {"title": "Task Count"}},
                "color": {"field": "kind", "type": "nominal",
                  "legend": {"title": null, "orient": "top-right", "offset": 7, "symbolSize": 374, "labelOffset": 17, "rowPadding": 1.1, "padding": 6, "fillColor": "rgba(255,255,255,0.8)", "strokeColor": "#cccccc", "cornerRadius": 3,
                    "encode": {"symbols": {"update": {
                      "shape": {"signal": "datum.value === 'Max' || datum.value === 'Min' ? 'M-1.5,0H1.5' : 'M-1.5,-0.5H1.5V0.5H-1.5Z'"},
                      "fill": {"signal": "datum.value === 'TASK' ? '#008000' : datum.value === 'GOMP_TASK' ? '#0000ff' : 'transparent'"},
                      "stroke": {"signal": "datum.value === 'Max' ? '#ff0000' : datum.value === 'Min' ? '#000000' : 'transparent'"},
                      "strokeDash": {"signal": "datum.value === 'Max' || datum.value === 'Min' ? [4, 2.5] : [1, 0]"},
                      "strokeWidth": {"value": 1.5},
                      "opacity": {"value": 1}
                    }}}}}
              }
            },
            {
              "data": {"name": "sortRules"},
              "mark": {"type": "text", "angle": 270, "align": "left", "baseline": "middle", "fontSize": 14, "font": "Liberation Serif"},
              "encoding": {
                "x": {"field": "tx", "type": "quantitative", "scale": {"domain": [-100, 100], "nice": false}, "axis": {"title": "Task Count"}},
                "y": {"field": "t", "type": "ordinal", "bandPosition": 1, "scale": {"paddingInner": 0.18, "paddingOuter": 3.2}, "axis": null},
                "text": {"field": "label"},
                "color": {"field": "kind", "type": "nominal",
                  "legend": {"title": null, "orient": "top-right", "offset": 7, "symbolSize": 374, "labelOffset": 17, "rowPadding": 1.1, "padding": 6, "fillColor": "rgba(255,255,255,0.8)", "strokeColor": "#cccccc", "cornerRadius": 3,
                    "encode": {"symbols": {"update": {
                      "shape": {"signal": "datum.value === 'Max' || datum.value === 'Min' ? 'M-1.5,0H1.5' : 'M-1.5,-0.5H1.5V0.5H-1.5Z'"},
                      "fill": {"signal": "datum.value === 'TASK' ? '#008000' : datum.value === 'GOMP_TASK' ? '#0000ff' : 'transparent'"},
                      "stroke": {"signal": "datum.value === 'Max' ? '#ff0000' : datum.value === 'Min' ? '#000000' : 'transparent'"},
                      "strokeDash": {"signal": "datum.value === 'Max' || datum.value === 'Min' ? [4, 2.5] : [1, 0]"},
                      "strokeWidth": {"value": 1.5},
                      "opacity": {"value": 1}
                    }}}}}
              }
            }
          ]
        }
      ]
    }
  ]
}
